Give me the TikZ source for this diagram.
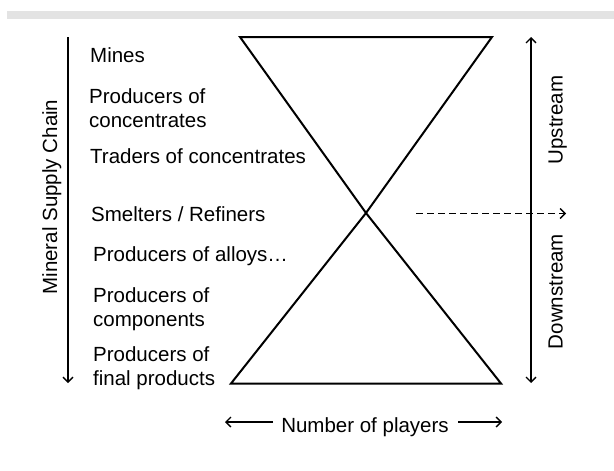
\documentclass[tikz,border=0pt]{standalone}
\usepackage{fontspec}
\setmainfont{Liberation Sans}
\usetikzlibrary{arrows.meta}
\begin{document}
\begin{tikzpicture}[x=1pt,y=-1pt,
  txt/.style={font=\fontsize{20.5}{24}\selectfont, inner sep=0pt, text=black},
  lbl/.style={txt, anchor=base west, align=left},
  tri/.style={line width=2pt, line join=miter},
  tip/.tip={Straight Barb[length=5pt,width=10pt,line width=1.3pt]},
  arr/.style={line width=1.3pt, -tip},
  dblarr/.style={line width=1.3pt, tip-tip},
  dsh/.style={line width=1.3pt, -tip, dash pattern=on 6.5pt off 4.5pt}
  ]
\useasboundingbox (0,0) rectangle (614,471);
\fill[black!11] (7,11) rectangle (614,19);

% hourglass
\coordinate (TL) at (240,37);
\coordinate (TR) at (492,37);
\coordinate (X)  at (366,213);
\coordinate (BL) at (231,383.5);
\coordinate (BR) at (501,383.5);
\draw[tri] (TL) -- (TR) -- (X) -- cycle;
\draw[tri] (X) -- (BL) -- (BR) -- cycle;

% left labels (multi-line nodes: base = last line)
\node[lbl] (mines)    at (90,63)  {Mines};
\node[lbl] (prodconc) at (89,127) {Producers of\\concentrates};
\node[lbl] (traders)  at (90,163) {Traders of concentrates};
\node[lbl] (smelt)    at (91,221) {Smelters / Refiners};
\node[lbl] (alloys)   at (93,261) {Producers of alloys…};
\node[lbl] (comp)     at (93,326) {Producers of\\components};
\node[lbl] (final)    at (93,385) {Producers of\\final products};

% left axis
\coordinate (chainTop) at (68,37);
\coordinate (chainBot) at (68,383);
\draw[arr] (chainTop) -- (chainBot);
\node[txt, rotate=90, anchor=base] (chain) at (57,197) {Mineral Supply Chain};

% right axis
\coordinate (streamTop) at (531,37);
\coordinate (streamBot) at (531,383);
\draw[dblarr] (streamBot) -- (streamTop);
\node[txt, rotate=90, anchor=base] (up)   at (562.5,120) {Upstream};
\node[txt, rotate=90, anchor=base] (down) at (562.5,291.5) {Downstream};

% dashed arrow
\coordinate (dashStart) at (416,213.5);
\coordinate (dashEnd)   at (566,213.5);
\draw[dsh] (dashStart) -- (dashEnd);

% bottom axis
\node[txt, anchor=base] (players) at (365,432) {Number of players};
\coordinate (plA) at (273,422);
\coordinate (plB) at (225,422);
\coordinate (prA) at (458,422);
\coordinate (prB) at (502,422);
\draw[arr] (plA) -- (plB);
\draw[arr] (prA) -- (prB);
\end{tikzpicture}
\end{document}
